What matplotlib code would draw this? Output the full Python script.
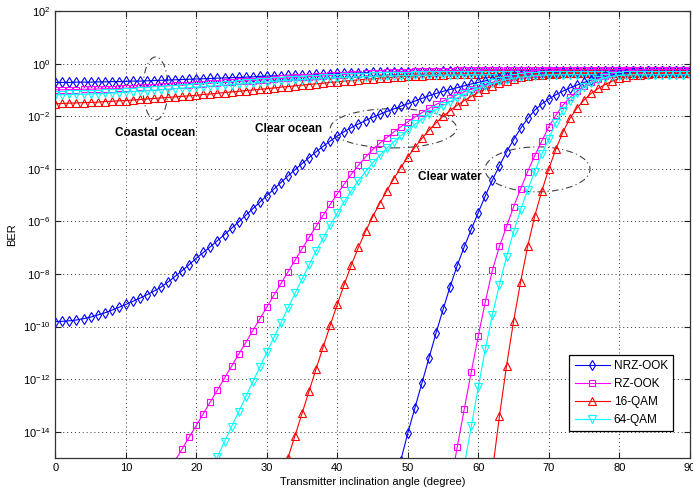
import numpy as np
import matplotlib
matplotlib.use("Agg")
import matplotlib.pyplot as plt
from matplotlib.patches import Ellipse

plt.rcParams['font.family'] = ['Liberation Sans', 'DejaVu Sans']
plt.rcParams['mathtext.fontset'] = 'custom'
plt.rcParams['mathtext.rm'] = 'Liberation Sans'
plt.rcParams['mathtext.default'] = 'regular'

series_names = ['NRZ-OOK', 'RZ-OOK', '16-QAM', '64-QAM']

# Coastal ocean (0..90 deg)
coastal_start = [0, 0, 0, 0]
coastal_nrz = [-0.71, -0.71, -0.71, -0.70, -0.70, -0.70, -0.69, -0.69, -0.68, -0.68, -0.67,
               -0.66, -0.66, -0.65, -0.64, -0.63, -0.62, -0.61, -0.60, -0.59, -0.58,
               -0.57, -0.56, -0.55, -0.54, -0.53, -0.52, -0.51, -0.50, -0.48, -0.47,
               -0.46, -0.45, -0.44, -0.43, -0.42, -0.41, -0.40, -0.39, -0.38, -0.37,
               -0.36, -0.35, -0.35, -0.34, -0.33, -0.33, -0.32, -0.32, -0.31, -0.31,
               -0.30, -0.30, -0.30, -0.30, -0.29, -0.29, -0.29, -0.29, -0.29, -0.29,
               -0.28, -0.28, -0.28, -0.28, -0.28, -0.28, -0.28, -0.28, -0.28, -0.28,
               -0.28, -0.28, -0.28, -0.28, -0.28, -0.28, -0.28, -0.28, -0.28, -0.28,
               -0.28, -0.28, -0.28, -0.28, -0.28, -0.28, -0.28, -0.28, -0.28, -0.28]
coastal_rz = [-0.99, -0.99, -0.98, -0.98, -0.97, -0.97, -0.96, -0.95, -0.95, -0.94, -0.93,
              -0.91, -0.90, -0.88, -0.87, -0.85, -0.84, -0.82, -0.81, -0.79, -0.78,
              -0.76, -0.74, -0.72, -0.71, -0.69, -0.67, -0.65, -0.64, -0.62, -0.60,
              -0.58, -0.56, -0.54, -0.52, -0.51, -0.49, -0.47, -0.46, -0.44, -0.42,
              -0.41, -0.39, -0.38, -0.37, -0.35, -0.34, -0.33, -0.32, -0.31, -0.30,
              -0.29, -0.28, -0.28, -0.27, -0.26, -0.26, -0.25, -0.25, -0.24, -0.24,
              -0.24, -0.23, -0.23, -0.23, -0.23, -0.22, -0.22, -0.22, -0.22, -0.22,
              -0.22, -0.22, -0.22, -0.22, -0.22, -0.22, -0.22, -0.22, -0.22, -0.22,
              -0.22, -0.22, -0.22, -0.22, -0.22, -0.22, -0.22, -0.22, -0.22, -0.22]
coastal_16qam = [-1.52, -1.51, -1.50, -1.49, -1.48, -1.47, -1.46, -1.44, -1.43, -1.41, -1.40,
                 -1.38, -1.36, -1.34, -1.32, -1.30, -1.28, -1.26, -1.24, -1.22, -1.20,
                 -1.17, -1.15, -1.12, -1.10, -1.07, -1.05, -1.02, -1.00, -0.97, -0.95,
                 -0.92, -0.89, -0.87, -0.84, -0.81, -0.79, -0.76, -0.74, -0.71, -0.69,
                 -0.66, -0.64, -0.61, -0.59, -0.57, -0.55, -0.53, -0.51, -0.49, -0.48,
                 -0.46, -0.45, -0.44, -0.42, -0.41, -0.40, -0.40, -0.39, -0.38, -0.38,
                 -0.37, -0.37, -0.37, -0.36, -0.36, -0.36, -0.36, -0.36, -0.36, -0.36,
                 -0.36, -0.36, -0.36, -0.36, -0.36, -0.36, -0.36, -0.36, -0.36, -0.36,
                 -0.36, -0.36, -0.36, -0.36, -0.36, -0.36, -0.36, -0.36, -0.36, -0.36]
coastal_64qam = [-1.18, -1.18, -1.17, -1.16, -1.16, -1.15, -1.14, -1.13, -1.11, -1.10, -1.08,
                 -1.06, -1.05, -1.03, -1.01, -0.99, -0.97, -0.95, -0.93, -0.91, -0.89,
                 -0.87, -0.85, -0.83, -0.81, -0.79, -0.77, -0.75, -0.73, -0.71, -0.69,
                 -0.67, -0.65, -0.63, -0.62, -0.60, -0.58, -0.57, -0.55, -0.54, -0.53,
                 -0.52, -0.51, -0.50, -0.49, -0.48, -0.47, -0.46, -0.46, -0.45, -0.45,
                 -0.44, -0.44, -0.44, -0.43, -0.43, -0.43, -0.43, -0.42, -0.42, -0.42,
                 -0.42, -0.42, -0.42, -0.42, -0.42, -0.42, -0.42, -0.42, -0.42, -0.42,
                 -0.42, -0.42, -0.42, -0.42, -0.42, -0.42, -0.42, -0.42, -0.42, -0.42,
                 -0.42, -0.42, -0.42, -0.42, -0.42, -0.42, -0.42, -0.42, -0.42, -0.42]

# Clear ocean
clearocean_start = [0, 17, 32, 22]
clearocean_nrz = [-9.81, -9.80, -9.78, -9.75, -9.70, -9.64, -9.56, -9.48, -9.38, -9.27, -9.16,
                  -9.04, -8.92, -8.79, -8.65, -8.50, -8.30, -8.09, -7.87, -7.64, -7.40,
                  -7.18, -6.96, -6.73, -6.50, -6.26, -6.02, -5.77, -5.52, -5.27, -5.02,
                  -4.77, -4.52, -4.27, -4.03, -3.80, -3.57, -3.35, -3.14, -2.94, -2.75,
                  -2.58, -2.43, -2.29, -2.16, -2.04, -1.93, -1.82, -1.72, -1.62, -1.52,
                  -1.42, -1.32, -1.22, -1.13, -1.05, -0.98, -0.91, -0.84, -0.77, -0.71,
                  -0.65, -0.60, -0.55, -0.51, -0.47, -0.44, -0.41, -0.38, -0.36, -0.34,
                  -0.33, -0.32, -0.31, -0.30, -0.30, -0.29, -0.28, -0.28, -0.28, -0.28,
                  -0.28, -0.28, -0.28, -0.28, -0.28, -0.28, -0.28, -0.28, -0.28, -0.28]
clearocean_rz = [-15.10, -14.65, -14.20, -13.76,
                 -13.31, -12.86, -12.41, -11.96, -11.51, -11.06, -10.61, -10.16, -9.71, -9.26,
                 -8.81, -8.36, -7.92, -7.48, -7.04, -6.61, -6.18, -5.76, -5.35, -4.95,
                 -4.57, -4.20, -3.86, -3.55, -3.27, -3.03, -2.81, -2.60, -2.40, -2.21,
                 -2.03, -1.86, -1.70, -1.55, -1.42, -1.30, -1.18, -1.07, -0.97, -0.88,
                 -0.79, -0.71, -0.63, -0.56, -0.50, -0.44, -0.39, -0.35, -0.31, -0.28,
                 -0.26, -0.24, -0.23, -0.22, -0.22, -0.22, -0.22, -0.22, -0.22, -0.22,
                 -0.22, -0.22, -0.22, -0.22, -0.22, -0.22, -0.22, -0.22, -0.22, -0.22]
clearocean_16qam = [-15.85,
                    -15.00, -14.15, -13.30, -12.45, -11.60, -10.77, -9.95, -9.15,
                    -8.38, -7.65, -6.98, -6.38, -5.83, -5.32, -4.84, -4.38, -3.95, -3.55,
                    -3.18, -2.84, -2.53, -2.25, -2.00, -1.78, -1.58, -1.40, -1.24, -1.09,
                    -0.96, -0.84, -0.74, -0.65, -0.58, -0.52, -0.47, -0.43, -0.41, -0.39,
                    -0.38, -0.37, -0.36, -0.36, -0.36, -0.36, -0.36, -0.36, -0.36, -0.36,
                    -0.36, -0.36, -0.36, -0.36, -0.36, -0.36, -0.36, -0.36, -0.36, -0.36]
clearocean_64qam = [-15.52,
                    -14.95, -14.38, -13.81, -13.25, -12.68, -12.11, -11.55, -10.98,
                    -10.42, -9.86, -9.30, -8.74, -8.19, -7.65, -7.12, -6.62, -6.14, -5.68,
                    -5.24, -4.83, -4.45, -4.10, -3.78, -3.49, -3.22, -2.97, -2.74, -2.52,
                    -2.31, -2.11, -1.92, -1.75, -1.59, -1.44, -1.30, -1.17, -1.05, -0.94,
                    -0.84, -0.75, -0.67, -0.60, -0.55, -0.51, -0.48, -0.45, -0.43, -0.42,
                    -0.42, -0.42, -0.42, -0.42, -0.42, -0.42, -0.42, -0.42, -0.42, -0.42,
                    -0.42, -0.42, -0.42, -0.42, -0.42, -0.42, -0.42, -0.42, -0.42, -0.42]

# Clear water
clearwater_start = [49, 56, 62, 58]
clearwater_nrz = [-15.10, -14.05,
                  -13.10, -12.15, -11.20, -10.25, -9.35, -8.48, -7.68, -6.97, -6.30, -5.66,
                  -5.02, -4.42, -3.88, -3.36, -2.89, -2.46, -2.08, -1.77, -1.53, -1.34,
                  -1.18, -1.04, -0.92, -0.81, -0.71, -0.62, -0.54, -0.47, -0.42, -0.37,
                  -0.34, -0.32, -0.30, -0.29, -0.28, -0.28, -0.28, -0.28, -0.28, -0.28]
clearwater_rz = [-16.10, -14.60, -13.15, -11.73, -10.35,
                 -9.05, -7.85, -6.95, -6.20, -5.45, -4.76, -4.10, -3.50, -2.94, -2.40,
                 -1.96, -1.58, -1.28, -1.05, -0.86, -0.70, -0.57, -0.46, -0.38, -0.32,
                 -0.28, -0.25, -0.23, -0.22, -0.22, -0.22, -0.22, -0.22, -0.22, -0.22]
clearwater_16qam = [-15.50, -13.40, -11.50, -9.80, -8.30, -6.95, -5.80, -4.85, -4.00,
                    -3.25, -2.60, -2.08, -1.68, -1.38, -1.13, -0.94, -0.79, -0.66, -0.56,
                    -0.49, -0.44, -0.41, -0.39, -0.37, -0.36, -0.36, -0.36, -0.36, -0.36]
clearwater_64qam = [-15.30, -13.80, -12.30,
                    -10.85, -9.55, -8.40, -7.35, -6.40, -5.55, -4.80, -4.10, -3.45, -2.85,
                    -2.25, -1.78, -1.42, -1.12, -0.88, -0.72, -0.61, -0.53, -0.48, -0.45,
                    -0.43, -0.42, -0.42, -0.42, -0.42, -0.42, -0.42, -0.42, -0.42, -0.42]

groups = [
    (coastal_start, [coastal_nrz, coastal_rz, coastal_16qam, coastal_64qam]),
    (clearocean_start, [clearocean_nrz, clearocean_rz, clearocean_16qam, clearocean_64qam]),
    (clearwater_start, [clearwater_nrz, clearwater_rz, clearwater_16qam, clearwater_64qam]),
]

colors = ['#0000ff', '#ff00ff', '#ff0000', '#00ffff']
markers = ['d', 's', '^', 'v']
msizes = [5.5, 5.0, 5.5, 5.5]

fig = plt.figure(figsize=(6.93, 4.97), dpi=100)
ax = fig.add_axes([0.0798, 0.0785, 0.9156, 0.8990])

handles = []
for gi, (starts, curves) in enumerate(groups):
    for k, vals in enumerate(curves):
        x = np.arange(starts[k], starts[k] + len(vals))
        y = 10.0 ** np.array(vals)
        ln, = ax.plot(x, y, '-', color=colors[k], lw=0.8, marker=markers[k],
                      ms=msizes[k], mfc='none', mec=colors[k], mew=0.8,
                      label=series_names[k])
        if gi == 0:
            handles.append(ln)

ax.set_yscale('log')
ax.set_xlim(0, 90)
ax.set_ylim(1e-15, 1e2)
ax.set_xticks(np.arange(0, 91, 10))
ax.set_yticks([10.0 ** e for e in range(2, -15, -2)])
ax.minorticks_off()
ax.grid(True, color='#333333', lw=0.7, linestyle=(0, (1, 3)))
ax.tick_params(direction='in', top=True, right=True, length=4, width=0.8,
               labelsize=8, colors='#222222', labelcolor='black')
for s in ax.spines.values():
    s.set_color('#333333')
    s.set_linewidth(0.9)

ax.set_xlabel('Transmitter inclination angle (degree)', fontsize=8, labelpad=3)
ax.set_ylabel('BER', fontsize=8, labelpad=4)

leg = ax.legend(handles=handles, loc='lower right', bbox_to_anchor=(0.9735, 0.0604),
                borderaxespad=0.0,
                fontsize=8.5, fancybox=False, framealpha=1, edgecolor='black',
                handlelength=3.0, borderpad=0.45, labelspacing=0.5, handletextpad=0.3)
leg.get_frame().set_linewidth(0.9)

ell_kw = dict(transform=ax.transAxes, fill=False, ec='#404040', lw=0.8,
              linestyle=(0, (6, 3, 1, 3)))
ax.add_patch(Ellipse((0.158, 0.827), 0.0394, 0.141, **ell_kw))
ax.add_patch(Ellipse((0.533, 0.738), 0.199, 0.088, **ell_kw))
ax.add_patch(Ellipse((0.760, 0.646), 0.1655, 0.1007, **ell_kw))

txt_kw = dict(transform=ax.transAxes, fontsize=8.5, fontweight='bold',
              ha='center', va='center')
ax.text(0.1573, 0.728, 'Coastal ocean', **txt_kw)
ax.text(0.368, 0.736, 'Clear ocean', **txt_kw)
ax.text(0.622, 0.629, 'Clear water', **txt_kw)

fig.savefig('out.png', dpi=100, facecolor='white')
